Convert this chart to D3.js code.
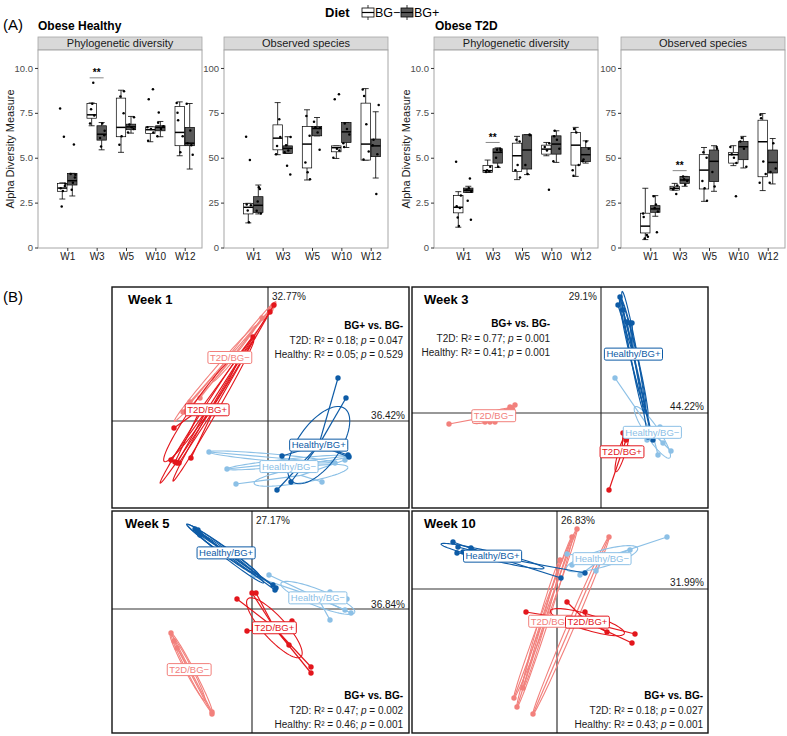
<!DOCTYPE html>
<html><head><meta charset="utf-8">
<script src="https://cdn.jsdelivr.net/npm/d3@7"></script>
<style>body{margin:0;background:#fff}svg{display:block}text{font-family:"Liberation Sans",Arial,Helvetica,sans-serif}</style>
</head><body><svg id="chart" width="787" height="736"></svg>
<script>
// ---------------- DATA: panel A (box plots) ----------------
const weeks = ["W1","W3","W5","W10","W12"];
const diets = ["BG−","BG+"];
// box stats per week: [lower whisker, Q1, median, Q3, upper whisker]
const healthyPD_BGm = [[2.70,3.13,3.31,3.57,3.60],[6.78,7.20,7.39,8.02,8.05],[5.30,6.17,6.69,8.32,8.76],[5.89,6.35,6.56,6.72,6.72],[5.11,5.67,6.41,7.85,8.11]];
const healthyPD_BGp = [[2.87,3.48,3.72,4.13,4.13],[5.44,5.98,6.31,6.78,6.96],[6.37,6.56,6.72,6.87,7.30],[6.17,6.50,6.69,6.78,7.02],[4.37,5.67,5.81,6.69,8.02]];
const healthyPD_ptsBGm = [[7.74,6.17,2.28,3.43,3.30,3.15,3.55],[9.18,7.70,7.35,6.90,8.00],[8.41,7.48,5.72,6.20,8.70],[8.81,8.26,6.60,6.40,6.70,5.95],[7.09,5.30,6.20,8.05,7.50]];
const healthyPD_ptsBGp = [[5.74,3.21,3.90,4.10,3.60,4.05],[5.63,6.25,6.10,6.90,6.50],[6.60,6.85,6.70,7.25,6.40],[7.52,6.60,6.75,6.20,6.95],[6.52,5.17,8.00,5.80,5.70]];

const healthyOS_BGm = [[13.7,18.7,22.4,24.6,24.6],[51.7,54.4,60.9,68.3,80.7],[37.6,44.3,57.6,67.4,76.7],[49.6,53.3,55.6,56.6,56.6],[48.7,48.7,57.6,80.4,88.5]];
const healthyOS_BGp = [[18.7,19.5,23.5,28.3,34.8],[52.4,52.4,55.2,56.6,61.7],[62.2,62.2,66.3,67.4,72.4],[55.7,58.5,64.4,69.6,69.6],[38.7,50.6,56.6,60.4,75.6]];
const healthyOS_ptsBGm = [[61.7,48.7,20.6,23.5,24.0,14.0],[71.5,56.6,61.5,52.0],[73.3,62.2,47.4,41.9,38.0],[85.4,82.6,55.0,54.0,50.0],[84.4,68.7,53.4,88.0,49.0]];
const healthyOS_ptsBGp = [[32.6,25.6,19.0,20.5,33.5],[45.6,40.6,57.0,54.0,61.5,53.0],[54.4,67.0,64.0,66.5,70.0],[69.0,66.0,63.0,58.0,56.0],[29.8,79.4,57.0,60.0,52.0]];

const t2dPD_BGm = [[1.13,1.93,2.24,2.89,3.11],[4.18,4.18,4.28,4.56,4.87],[3.78,4.24,5.11,5.81,6.19],[5.11,5.20,5.48,5.70,5.85],[3.96,4.59,5.70,6.41,6.69]];
const t2dPD_BGp = [[3.07,3.07,3.19,3.31,3.41],[4.46,4.70,5.30,5.50,5.55],[4.06,4.37,5.43,6.28,6.28],[4.74,5.20,5.76,6.22,6.50],[4.70,4.78,5.17,5.57,5.94]];
const t2dPD_ptsBGm = [[4.78,2.20,1.67,2.90,2.30,1.20],[4.25,4.30,4.50,4.20],[6.00,5.90,4.30,4.60,3.90],[3.22,5.60,5.40,5.80],[6.60,6.40,4.60,4.30,4.00]];
const t2dPD_ptsBGp = [[3.85,2.61,1.54,3.20,3.30,3.10],[5.45,5.50,5.00,4.50,5.40],[6.30,4.60,4.10,6.25],[6.50,6.00,5.50,4.80,6.20],[5.90,5.50,4.80,4.90]];

const t2dOS_BGm = [[4.4,8.1,11.9,19.1,33.0],[32.0,32.0,33.0,34.1,35.7],[25.7,32.6,43.1,51.7,55.7],[45.6,47.0,51.7,53.0,56.7],[31.7,39.4,58.9,70.9,74.6]];
const t2dOS_BGp = [[17.4,19.6,21.5,23.3,28.9],[34.1,35.7,37.6,39.6,39.6],[31.3,36.7,48.0,54.3,56.7],[44.3,48.9,56.1,59.1,61.9],[35.4,41.5,47.4,54.3,60.7]];
const t2dOS_ptsBGm = [[19.0,7.0,5.0,6.0,17.0],[29.8,33.0,34.5,32.5],[53.0,50.0,37.0,33.0,26.0],[28.5,52.0,50.0,47.0,56.0],[72.0,47.9,40.9,36.0,74.0]];
const t2dOS_ptsBGp = [[8.5,22.0,20.0,28.5,24.0],[38.0,37.0,39.5,35.0],[56.0,42.0,34.0,55.0],[61.0,55.0,45.0,59.0],[58.0,44.0,36.0,42.0]];

const pdTicks = [0,2.5,5,7.5,10];
const osTicks = [0,25,50,75,100];
const sigWeek = "W3";
const sigLevels = [9.45, null, 5.85, 42.8];   // y of "**" brackets per facet

// ---------------- DATA: panel B (PCoA) ----------------
const pcoaTitles = ["Week 1","Week 3","Week 5","Week 10"];
const pcoaXDomain = [[-1.56,1.41],[-1.89,1.07],[-1.40,1.57],[-1.45,1.51]];
const pcoaYDomain = [[-0.87,1.34],[-0.95,1.26],[-1.24,0.98],[-1.44,0.78]];
const pctAxis1 = ["36.42%","44.22%","36.84%","31.99%"];
const pctAxis2 = ["32.77%","29.1%","27.17%","26.83%"];
const statT2D = [["0.18","0.047"],["0.77","0.001"],["0.47","0.002"],["0.18","0.027"]];
const statHealthy = [["0.05","0.529"],["0.41","0.001"],["0.46","0.001"],["0.43","0.001"]];
const groupNames = ["T2D/BG−","Healthy/BG−","T2D/BG+","Healthy/BG+"];
// each group: list of sub-clusters, each a list of [PCo1, PCo2]
const week1 = [
  [[[0.05,1.15],[-0.85,0.09],[-0.78,0.19]],[[0.03,1.12],[-0.68,0.23],[-0.06,1.03]]],
  [[[-0.59,-0.31],[0.67,-0.42]],[[-0.41,-0.48],[0.81,-0.35]],[[-0.32,-0.63],[0.54,-0.61],[0.77,-0.39]]],
  [[[0.06,1.16],[-0.97,-0.39],[-0.91,-0.42]],[[-0.15,0.84],[-0.94,-0.07],[-0.93,-0.41]],[[0.02,1.09],[-0.77,-0.37],[-0.89,-0.42]]],
  [[[0.70,0.43],[0.78,0.23],[0.14,-0.35],[0.23,-0.61],[0.09,-0.69],[0.81,-0.36],[0.80,-0.34]]]
];
const week3 = [
  [[[-1.52,-0.11],[-1.16,-0.09],[-1.11,-0.09],[-1.06,-0.09],[-0.91,0.06],[-0.86,0.08],[-0.89,0.05]]],
  [[[0.14,0.35],[0.59,-0.14],[0.57,-0.42],[0.70,-0.38],[0.46,-0.27],[0.62,-0.30]]],
  [[[0.08,-0.77],[0.22,-0.20],[0.27,-0.35],[0.23,-0.35],[0.25,-0.27]]],
  [[[0.17,1.08],[0.49,-0.17],[0.29,0.90]],[[0.19,1.16],[0.47,-0.24],[0.31,0.90]],[[0.26,0.91],[0.52,-0.27],[0.22,1.03]]]
];
const week5 = [
  [[[-0.81,-0.24],[-0.40,-1.03]],[[-0.78,-0.32],[-0.75,-0.39],[-0.40,-1.05]]],
  [[[0.01,0.33],[0.17,0.34],[0.78,0.17],[0.95,0.10],[0.93,-0.01],[0.99,-0.04],[0.78,-0.11]]],
  [[[-0.15,0.10],[0.00,0.16],[0.04,0.16],[-0.05,-0.22],[0.40,-0.12],[0.37,-0.36],[0.59,-0.58],[0.59,-0.64]]],
  [[[-0.57,0.80],[0.24,0.21],[-0.52,0.74]],[[-0.55,0.78],[0.21,0.24],[-0.53,0.76]],[[-0.54,0.79],[0.23,0.19],[-0.30,0.54]]]
];
const week10 = [
  [[[0.20,0.60],[-0.43,-1.09]],[[0.15,0.52],[-0.40,-1.18]],[[0.52,0.52],[-0.24,-1.25]],[[0.03,0.29],[-0.34,-0.99]]],
  [[[1.10,0.52],[0.39,0.18],[0.23,0.14],[0.10,0.35],[0.15,0.24],[0.73,0.39]]],
  [[[-0.31,-0.23],[0.10,-0.13],[0.28,-0.23],[0.78,-0.45],[0.75,-0.54],[0.50,-0.43],[0.03,-0.31]]],
  [[[-1.04,0.47],[-0.99,0.42],[-0.86,0.41],[-1.00,0.36],[-0.94,0.37],[0.04,0.11],[0.28,0.16]]]
];
const pcoaData = [week1, week3, week5, week10];

// ---------------- STYLE / LAYOUT ----------------
const svg = d3.select("#chart");
const groupColors = ["#F2807C","#8CC0E6","#E3161C","#0D5BA6"];
const boxFill = ["#ffffff","#595959"];
const FF = '"Liberation Sans",Arial,sans-serif';

// Legend + headings
svg.append("text").attr("x",325).attr("y",17).attr("font-size",13).attr("font-weight","bold").text("Diet");
const legX = [362,401];
diets.forEach((d,i)=>{
  const g = svg.append("g");
  const lx = legX[i];
  g.append("line").attr("x1",lx+6).attr("x2",lx+6).attr("y1",5).attr("y2",20).attr("stroke","#000").attr("stroke-width",0.8);
  g.append("rect").attr("x",lx).attr("y",8).attr("width",12).attr("height",9).attr("fill",boxFill[i]).attr("stroke","#000").attr("stroke-width",0.8);
  g.append("line").attr("x1",lx).attr("x2",lx+12).attr("y1",12.5).attr("y2",12.5).attr("stroke","#000").attr("stroke-width",1.2);
  g.append("text").attr("x",lx+13).attr("y",17).attr("font-size",12.5).text(d);
});
svg.append("text").attr("x",3).attr("y",30).attr("font-size",15).text("(A)");
svg.append("text").attr("x",38).attr("y",30).attr("font-size",12).attr("font-weight","bold").text("Obese Healthy");
svg.append("text").attr("x",435).attr("y",30).attr("font-size",12).attr("font-weight","bold").text("Obese T2D");
svg.append("text").attr("x",3).attr("y",302).attr("font-size",15).text("(B)");

// ---------------- PANEL A ----------------
const facets = [
  {metric:"Phylogenetic diversity", box:[healthyPD_BGm,healthyPD_BGp], pts:[healthyPD_ptsBGm,healthyPD_ptsBGp], max:11, ticks:pdTicks, fmt:d=>d===0?"0":d.toFixed(1)},
  {metric:"Observed species", box:[healthyOS_BGm,healthyOS_BGp], pts:[healthyOS_ptsBGm,healthyOS_ptsBGp], max:110, ticks:osTicks, fmt:d=>String(d)},
  {metric:"Phylogenetic diversity", box:[t2dPD_BGm,t2dPD_BGp], pts:[t2dPD_ptsBGm,t2dPD_ptsBGp], max:11, ticks:pdTicks, fmt:d=>d===0?"0":d.toFixed(1)},
  {metric:"Observed species", box:[t2dOS_BGm,t2dOS_BGp], pts:[t2dOS_ptsBGm,t2dOS_ptsBGp], max:110, ticks:osTicks, fmt:d=>String(d)}
];
const facetX0 = [38,224,434,621];
const facetW = 164, stripTop = 37, plotTop = 50, plotBot = 248;
const jitter = [-2.2,1.6,-0.6,2.6,-1.6,0.6,3.0,-3.0];

facets.forEach((f,i)=>{
  const x0 = facetX0[i], x1 = x0+facetW;
  const x = d3.scalePoint().domain(weeks).range([x0+29.3, x1-17.3]);
  const y = d3.scaleLinear().domain([0,f.max]).range([plotBot-0.5, plotTop]);
  const g = svg.append("g");
  g.append("rect").attr("x",x0).attr("y",stripTop).attr("width",facetW).attr("height",plotTop-stripTop)
    .attr("fill","#D9D9D9").attr("stroke","#A6A6A6").attr("stroke-width",0.8);
  g.append("text").attr("x",(x0+x1)/2).attr("y",stripTop+10).attr("text-anchor","middle").attr("font-size",11).attr("fill","#1a1a1a").text(f.metric);
  g.append("rect").attr("x",x0).attr("y",plotTop).attr("width",facetW).attr("height",plotBot-plotTop)
    .attr("fill","#fff").attr("stroke","#A6A6A6").attr("stroke-width",1);
  const ya = g.append("g").attr("transform",`translate(${x0},0)`)
    .call(d3.axisLeft(y).tickValues(f.ticks).tickSize(3).tickPadding(2).tickFormat(f.fmt));
  ya.select(".domain").remove();
  ya.selectAll("line").attr("stroke","#333");
  ya.selectAll("text").attr("font-size",9.5).attr("fill","#4d4d4d").attr("font-family",FF);
  const xa = g.append("g").attr("transform",`translate(0,${plotBot})`).call(d3.axisBottom(x).tickSize(3).tickPadding(2));
  xa.select(".domain").remove();
  xa.selectAll("line").attr("stroke","#333");
  xa.selectAll("text").attr("font-size",10).attr("fill","#1a1a1a").attr("font-family",FF);
  if (i===0 || i===2) {
    g.append("text").attr("transform",`translate(${x0-24},${(plotTop+plotBot)/2}) rotate(-90)`)
      .attr("text-anchor","middle").attr("font-size",11).attr("fill","#1a1a1a").text("Alpha Diversity Measure");
  }
  weeks.forEach((w,j)=>{
    [0,1].forEach(d=>{
      const s = f.box[d][j];
      const cx = x(w) + (d===0?-5:5);
      const bw = 9.4, cw = 6;
      const bg = g.append("g");
      bg.append("line").attr("x1",cx).attr("x2",cx).attr("y1",y(s[0])).attr("y2",y(s[1])).attr("stroke","#000").attr("stroke-width",0.8);
      bg.append("line").attr("x1",cx).attr("x2",cx).attr("y1",y(s[3])).attr("y2",y(s[4])).attr("stroke","#000").attr("stroke-width",0.8);
      [s[0],s[4]].forEach(v=>bg.append("line").attr("x1",cx-cw/2).attr("x2",cx+cw/2).attr("y1",y(v)).attr("y2",y(v)).attr("stroke","#000").attr("stroke-width",0.8));
      bg.append("rect").attr("x",cx-bw/2).attr("y",y(s[3])).attr("width",bw).attr("height",Math.max(0.5,y(s[1])-y(s[3])))
        .attr("fill",boxFill[d]).attr("stroke","#000").attr("stroke-width",0.7);
      bg.append("line").attr("x1",cx-bw/2).attr("x2",cx+bw/2).attr("y1",y(s[2])).attr("y2",y(s[2])).attr("stroke","#000").attr("stroke-width",1.5);
      f.pts[d][j].forEach((v,k)=>{
        bg.append("circle").attr("cx",cx+jitter[(k+j+d)%jitter.length]).attr("cy",y(v)).attr("r",1.25).attr("fill","#000");
      });
    });
  });
  if (sigLevels[i]!==null) {
    const sy = y(sigLevels[i]);
    g.append("line").attr("x1",x(sigWeek)-7).attr("x2",x(sigWeek)+7).attr("y1",sy).attr("y2",sy).attr("stroke","#555").attr("stroke-width",0.7);
    g.append("text").attr("x",x(sigWeek)).attr("y",sy-1.5).attr("text-anchor","middle").attr("font-size",10).attr("font-weight","bold").text("**");
  }
});

// ---------------- PANEL B ----------------
const pcoaRects = [[112,287,409,508],[412,287,708,508],[112,511,409,733],[412,511,708,733]];
const titleDx = [16,12,13,12];
const pct2Anchor = ["start","end","start","start"];
const pct1Dy = [2,3,1,3];
const statAnchor = [[403,329],[550,327],[403,699],[703,699]];

function ellipsePath(pts, k, minR){
  const mx = d3.mean(pts,p=>p[0]), my = d3.mean(pts,p=>p[1]);
  const a = d3.mean(pts,p=>(p[0]-mx)**2), c = d3.mean(pts,p=>(p[1]-my)**2), b = d3.mean(pts,p=>(p[0]-mx)*(p[1]-my));
  const tr = (a+c)/2, dd = Math.sqrt(((a-c)/2)**2 + b*b);
  const l1 = tr+dd, l2 = Math.max(0,tr-dd);
  const th = 0.5*Math.atan2(2*b, a-c);
  const r1 = Math.max(k*Math.sqrt(l1),minR), r2 = Math.max(k*Math.sqrt(l2),minR);
  return d3.range(0,73).map(i=>{
    const t = i/72*2*Math.PI;
    return [mx + r1*Math.cos(t)*Math.cos(th) - r2*Math.sin(t)*Math.sin(th),
            my + r1*Math.cos(t)*Math.sin(th) + r2*Math.sin(t)*Math.cos(th)];
  });
}

pcoaData.forEach((wk,pi)=>{
  const [x0,y0,x1,y1] = pcoaRects[pi];
  const x = d3.scaleLinear().domain(pcoaXDomain[pi]).range([x0,x1]);
  const y = d3.scaleLinear().domain(pcoaYDomain[pi]).range([y1,y0]);
  const g = svg.append("g");
  const cid = "clip"+pi;
  svg.append("defs").append("clipPath").attr("id",cid).append("rect").attr("x",x0).attr("y",y0).attr("width",x1-x0).attr("height",y1-y0);
  g.append("rect").attr("x",x0).attr("y",y0).attr("width",x1-x0).attr("height",y1-y0).attr("fill","#fff");
  g.append("line").attr("x1",x(0)).attr("x2",x(0)).attr("y1",y0).attr("y2",y1).attr("stroke","#333").attr("stroke-width",1.2);
  g.append("line").attr("x1",x0).attr("x2",x1).attr("y1",y(0)).attr("y2",y(0)).attr("stroke","#333").attr("stroke-width",1.2);
  const gp = g.append("g").attr("clip-path",`url(#${cid})`);
  const line = d3.line().x(p=>x(p[0])).y(p=>y(p[1]));
  wk.forEach((grp,gi)=>{
    const col = groupColors[gi];
    grp.forEach(sub=>{
      const mx = d3.mean(sub,p=>p[0]), my = d3.mean(sub,p=>p[1]);
      sub.forEach(p=>{
        gp.append("line").attr("x1",x(mx)).attr("y1",y(my)).attr("x2",x(p[0])).attr("y2",y(p[1])).attr("stroke",col).attr("stroke-width",1.2);
      });
      gp.append("path").attr("d",line(ellipsePath(sub,1.0,0.035))).attr("fill","none").attr("stroke",col).attr("stroke-width",1.1);
      sub.forEach(p=>{
        gp.append("circle").attr("cx",x(p[0])).attr("cy",y(p[1])).attr("r",2.7).attr("fill",col);
      });
    });
  });
  // labels at group centroids
  wk.forEach((grp,gi)=>{
    const all = grp.flat();
    const mx = d3.mean(all,p=>p[0]), my = d3.mean(all,p=>p[1]);
    const lg = g.append("g");
    const t = lg.append("text").attr("x",x(mx)).attr("y",y(my)+3.3).attr("text-anchor","middle").attr("font-size",9.5).attr("fill",groupColors[gi]).text(groupNames[gi]);
    const w = t.node().getComputedTextLength();
    lg.insert("rect","text").attr("x",x(mx)-w/2-2).attr("y",y(my)-6).attr("width",w+4).attr("height",12).attr("rx",1.5)
      .attr("fill","#fff").attr("stroke",groupColors[gi]).attr("stroke-width",1);
  });
  g.append("rect").attr("x",x0).attr("y",y0).attr("width",x1-x0).attr("height",y1-y0).attr("fill","none").attr("stroke","#111").attr("stroke-width",1.4);
  g.append("text").attr("x",x0+titleDx[pi]).attr("y",y0+17).attr("font-size",13).attr("font-weight","bold").text(pcoaTitles[pi]);
  g.append("text").attr("x",pct2Anchor[pi]==="start"?x(0)+4:x(0)-4).attr("y",y0+13).attr("text-anchor",pct2Anchor[pi]).attr("font-size",10).attr("fill","#1a1a1a").text(pctAxis2[pi]);
  g.append("text").attr("x",x1-4).attr("y",y(0)-pct1Dy[pi]).attr("text-anchor","end").attr("font-size",10).attr("fill","#1a1a1a").text(pctAxis1[pi]);
  const [ax,ay] = statAnchor[pi];
  g.append("text").attr("x",ax).attr("y",ay).attr("text-anchor","end").attr("font-size",10).attr("font-weight","bold").text("BG+ vs. BG-");
  [["T2D",statT2D[pi]],["Healthy",statHealthy[pi]]].forEach(([nm,v],li)=>{
    const t = g.append("text").attr("x",ax).attr("y",ay+14.5*(li+1)).attr("text-anchor","end").attr("font-size",10).attr("fill","#1a1a1a");
    t.append("tspan").text(`${nm}: R² = ${v[0]}; `);
    t.append("tspan").attr("font-style","italic").text("p");
    t.append("tspan").text(` = ${v[1]}`);
  });
});
</script></body></html>
